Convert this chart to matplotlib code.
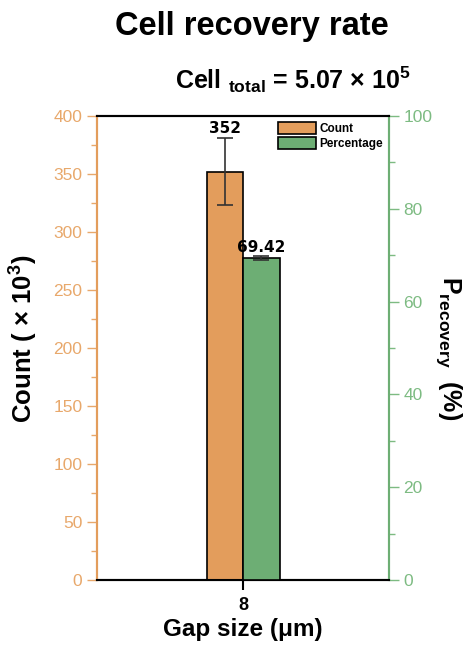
import matplotlib
matplotlib.use("Agg")
import matplotlib.pyplot as plt
from matplotlib.ticker import MultipleLocator
from matplotlib.patches import Patch

categories = ["8"]
count_vals = [352]
count_err = [29]
pct_vals = [69.42]
pct_err = [0.4]
count_labels = ["352"]
pct_labels = ["69.42"]

ORANGE = "#E39D5C"
GREEN = "#6DAE74"
ORANGE_T = "#E8A86B"
GREEN_T = "#7DBB82"

FONT = 'Liberation Sans'
plt.rcParams['font.family'] = [FONT, 'DejaVu Sans']
plt.rcParams['mathtext.fontset'] = 'custom'
plt.rcParams['mathtext.rm'] = FONT + ':bold'
plt.rcParams['mathtext.bf'] = FONT + ':bold'
plt.rcParams['mathtext.it'] = FONT + ':bold'

fig = plt.figure(figsize=(4.7, 6.57), dpi=100)
ax = fig.add_axes([97/470, 1-580/657, 292/470, 464/657])
ax2 = ax.twinx()

x = [8]
w = 0.25
ax.bar([xi - w/2 for xi in x], count_vals, width=w, color=ORANGE, edgecolor='black', linewidth=1.2,
       yerr=count_err, error_kw=dict(ecolor='#333333', elinewidth=1.2, capsize=6, capthick=1.2), zorder=3)
ax2.bar([xi + w/2 for xi in x], pct_vals, width=w, color=GREEN, edgecolor='black', linewidth=1.2,
        yerr=pct_err, error_kw=dict(ecolor='#333333', elinewidth=1.2, capsize=6, capthick=1.2), zorder=3)

for xi, v, e, lab in zip(x, count_vals, count_err, count_labels):
    ax.text(xi - w/2, v + e + 2, lab, ha='center', va='bottom', fontsize=11, fontweight='bold',
            family='DejaVu Sans')
for xi, v, e, lab in zip(x, pct_vals, pct_err, pct_labels):
    ax2.text(xi + w/2, v + e + 0.3, lab, ha='center', va='bottom', fontsize=11, fontweight='bold',
             family='DejaVu Sans')

ax.set_xlim(7, 9)
ax.set_ylim(0, 400)
ax2.set_ylim(0, 100)
ax.set_xticks(x)
ax.set_xticklabels(categories, fontsize=13, fontweight='bold')

ax.yaxis.set_major_locator(MultipleLocator(50))
ax.yaxis.set_minor_locator(MultipleLocator(25))
ax2.yaxis.set_major_locator(MultipleLocator(20))
ax2.yaxis.set_minor_locator(MultipleLocator(10))

ax.tick_params(axis='y', which='major', colors=ORANGE_T, labelsize=12.5, length=7, width=1, direction='out')
ax.tick_params(axis='y', which='minor', colors=ORANGE_T, length=4, width=1, direction='out')
ax2.tick_params(axis='y', which='major', colors=GREEN_T, labelsize=12.5, length=7, width=1, direction='out')
ax2.tick_params(axis='y', which='minor', colors=GREEN_T, length=4, width=1, direction='out')
ax.tick_params(axis='x', which='major', length=7, width=1.5, direction='out', pad=5)

for a in (ax, ax2):
    a.spines['left'].set_color(ORANGE)
    a.spines['right'].set_color(GREEN)
    a.spines['top'].set_color('black')
    a.spines['bottom'].set_color('black')
    for s in ('left', 'right', 'top', 'bottom'):
        a.spines[s].set_linewidth(1.5)

ax.set_ylabel(r"Count ( $\times$ 10$^{3}$)", fontsize=18.5, fontweight='bold')
ax.yaxis.set_label_coords(-0.195, 0.52)
ax2.set_ylabel(r"P$_{\mathrm{recovery}}$  (%)", fontsize=18, fontweight='bold', rotation=-90)
ax2.yaxis.set_label_coords(1.255, 0.5)
ax.set_xlabel(r"Gap size (μm)", fontsize=17.5, fontweight='bold', labelpad=3)

fig.text(0.535, 1-27/657, "Cell recovery rate", ha='center', va='center', fontsize=23.5, fontweight='bold')
fig.text(293/470, 1-80/657, r"Cell $_{\mathrm{total}}$ = 5.07 $\times$ 10$^{5}$", ha='center', va='center',
         fontsize=18, fontweight='bold')

handles = [Patch(facecolor=ORANGE, edgecolor='black', linewidth=1.2, label='Count'),
           Patch(facecolor=GREEN, edgecolor='black', linewidth=1.2, label='Percentage')]
ax2.legend(handles=handles, loc='upper right', frameon=False, handlelength=3.2,
           handleheight=1.2, handletextpad=0.3, labelspacing=0.15, borderaxespad=0.1,
           bbox_to_anchor=(1.0, 1.0), prop=dict(weight='bold', size=8.5))

fig.savefig("out.png", dpi=100)
